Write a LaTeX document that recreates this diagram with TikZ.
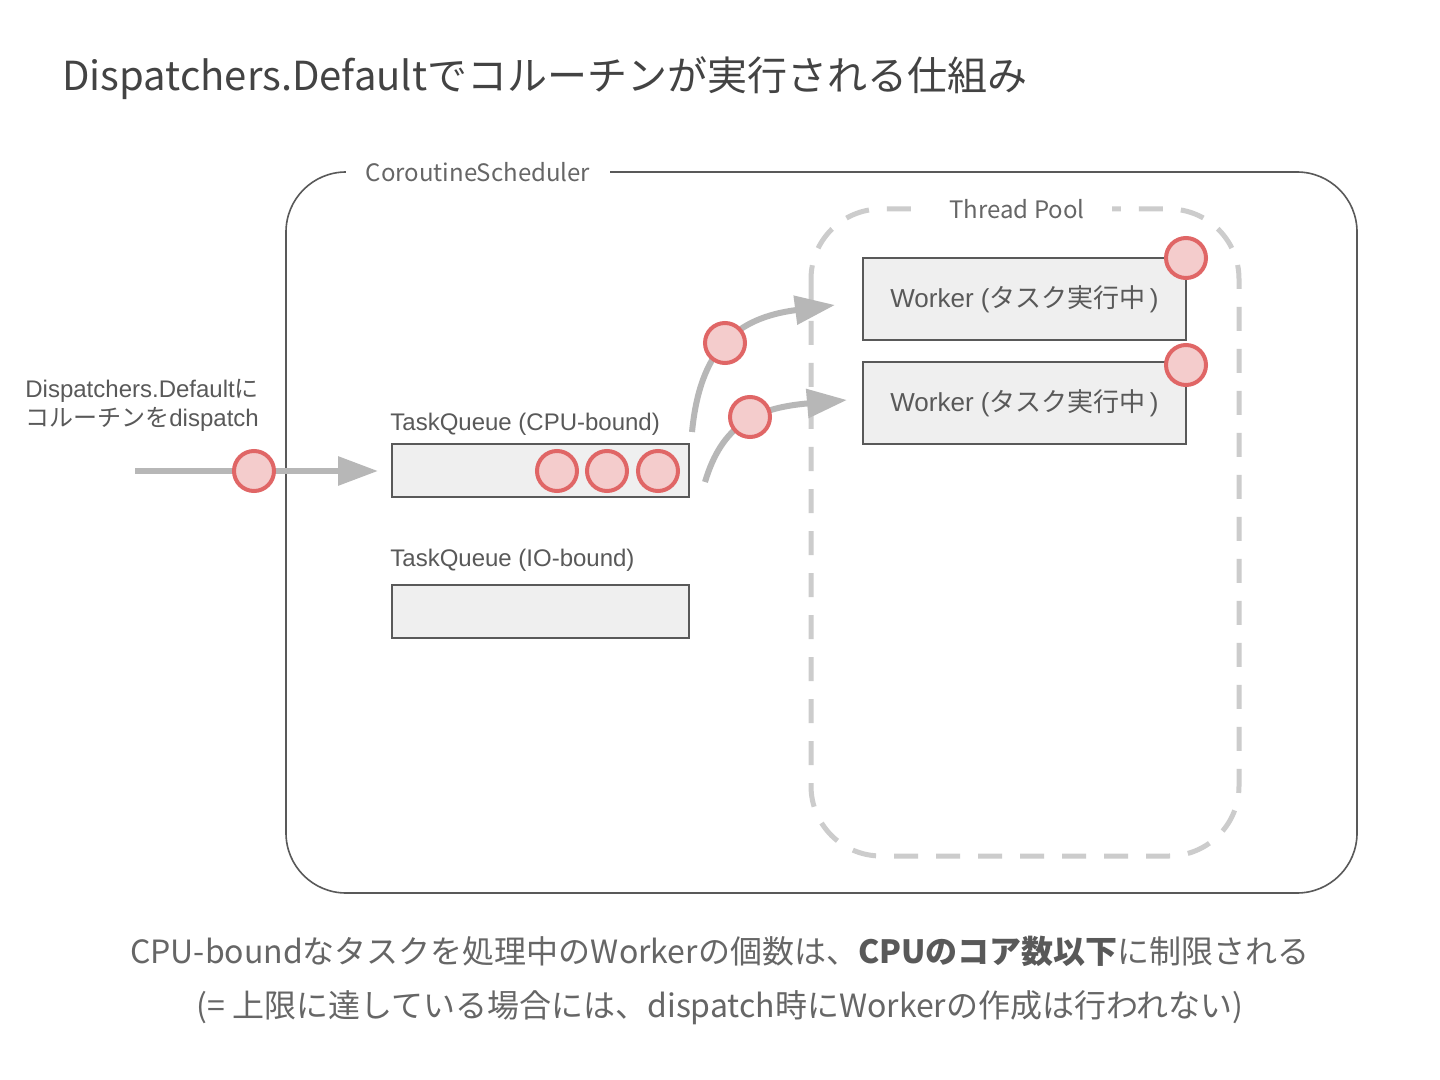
\documentclass[tikz,border=0pt]{standalone}
\usepackage{fontspec}
\setmainfont{Noto Sans CJK JP}
\newfontfamily\arialf{Liberation Sans}
\newfontfamily\jp{Noto Sans CJK JP}
\usetikzlibrary{arrows.meta}
\definecolor{txt}{HTML}{595959}
\definecolor{ttl}{HTML}{434343}
\definecolor{txtb}{HTML}{666666}
\definecolor{arr}{HTML}{B7B7B7}
\definecolor{dashc}{HTML}{CCCCCC}
\definecolor{cfill}{HTML}{F4CCCC}
\definecolor{cdraw}{HTML}{E06666}
\definecolor{boxfill}{HTML}{EFEFEF}
\begin{document}
\begin{tikzpicture}[x=0.5pt,y=-0.5pt,
  task/.style={circle,draw=cdraw,fill=cfill,line width=2pt,minimum size=20pt,inner sep=0pt},
  qbox/.style={draw=txt,fill=boxfill,line width=0.7pt,minimum width=148.5pt,minimum height=26.5pt,inner sep=0pt},
  wbox/.style={draw=txt,fill=boxfill,line width=0.7pt,minimum width=161.5pt,minimum height=41pt,inner sep=0pt,text=txt,font=\arialf\fontsize{13}{15}\selectfont},
  lbl/.style={inner sep=0pt,text=txt},
  flow/.style={draw=arr,line width=3pt,-{Triangle[length=20pt,width=14pt]}},
]
\useasboundingbox (0,0) rectangle (1440,1080);
\fill[white] (0,0) rectangle (1440,1080);

% title
\node[lbl,text=ttl,anchor=west,font=\fontsize{20}{24}\selectfont] (title) at (62,78) {Dispatchers.Defaultでコルーチンが実行される仕組み};

% scheduler frame
\draw[draw=txt,line width=0.8pt,rounded corners=30pt] (286,172) rectangle (1357,893);
\node[lbl,text=txtb,fill=white,inner xsep=10pt,inner ysep=2pt,font=\fontsize{12}{15}\selectfont] (sched) at (478,172) {CoroutineScheduler};

% thread pool
\draw[draw=dashc,line width=2.5pt,dash pattern=on 12pt off 9pt,rounded corners=35pt] (811,209) rectangle (1239,856);
\node[lbl,text=txtb,fill=white,inner xsep=13.5pt,inner ysep=3pt,font=\fontsize{12}{15}\selectfont] (pool) at (1017,209) {Thread Pool};

% workers
\node[wbox] (w1) at (1024.5,299) {Worker (\jp タスク実行中\,\arialf)};
\node[wbox] (w2) at (1024.5,403) {Worker (\jp タスク実行中\,\arialf)};

% queues
\node[lbl,anchor=west,font=\arialf\fontsize{12}{14}\selectfont] (qcpul) at (390,424) {TaskQueue (CPU-bound)};
\node[qbox] (qcpu) at (540.5,470.5) {};
\node[lbl,anchor=west,font=\arialf\fontsize{12}{14}\selectfont] (qiol) at (390,560) {TaskQueue (IO-bound)};
\node[qbox] (qio) at (540.5,611.5) {};

% left label
\node[lbl,anchor=west,align=left,font=\arialf\fontsize{12}{14.5}\selectfont] (disp) at (25,405) {Dispatchers.Default{\jp に}\\{\jp コルーチンを}dispatch};

% arrows
\coordinate (src) at (135,471);
\coordinate (qin) at (378,471);
\draw[flow] (src) -- (qin);
\coordinate (s1) at (692,432);
\coordinate (e1) at (835,305);
\draw[flow] (s1) .. controls (700,350) and (735,318) .. (e1);
\coordinate (s2) at (705,482);
\coordinate (e2) at (847,400);
\draw[flow] (s2) .. controls (722,425) and (755,408) .. (e2);

% tasks
\node[task] (t0) at (254,471) {};
\node[task] (q1) at (557,471) {};
\node[task] (q2) at (607,471) {};
\node[task] (q3) at (658,471) {};
\node[task] (m1) at (725,343) {};
\node[task] (m2) at (750,417) {};
\node[task] (r1) at (1186,258) {};
\node[task] (r2) at (1186,365) {};

% bottom notes
\node[lbl,text=txtb,font=\fontsize{16}{20}\selectfont] (note1) at (720,951) {CPU-boundなタスクを処理中のWorkerの個数は、{\bfseries\color{txt}CPUのコア数以下}に制限される};
\node[lbl,text=txtb,font=\fontsize{16}{20}\selectfont] (note2) at (720,1008) {(= 上限に達している場合には、dispatch時にWorkerの作成は行われない)};
\end{tikzpicture}
\end{document}
